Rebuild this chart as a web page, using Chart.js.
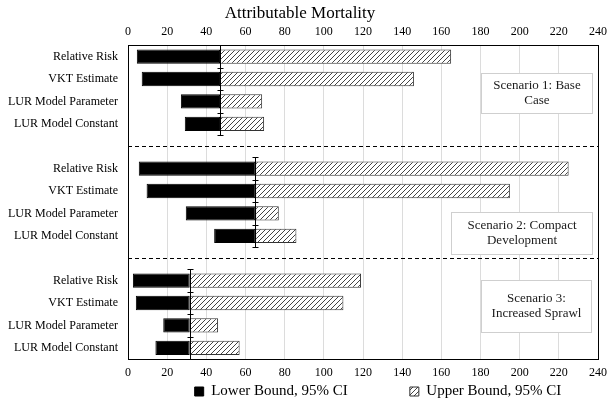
<!DOCTYPE html>
<html>
<head>
<meta charset="utf-8">
<script src="https://cdn.jsdelivr.net/npm/chart.js@4.4.1/dist/chart.umd.min.js"></script>
<style>
  html, body { margin: 0; padding: 0; background: #fff; }
  #wrap { width: 614px; height: 405px; }
</style>
</head>
<body>
<div id="wrap"><canvas id="c" width="614" height="405"></canvas></div>
<script>
// ---- data ----
const categories = [
  'Relative Risk', 'VKT Estimate', 'LUR Model Parameter', 'LUR Model Constant', '',
  'Relative Risk', 'VKT Estimate', 'LUR Model Parameter', 'LUR Model Constant', '',
  'Relative Risk', 'VKT Estimate', 'LUR Model Parameter', 'LUR Model Constant'
];
const baseValues = [47, 47, 47, 47, null, 65, 65, 65, 65, null, 31.5, 31.5, 31.5, 31.5];
const lowerBounds = [4.5, 7, 27, 29, null, 5.5, 9.5, 29.5, 44, null, 2.5, 4, 18, 14];
const upperBounds = [165, 146, 68.5, 69.5, null, 225, 195, 77, 86, null, 119, 110, 46, 57];
const scenarioLabels = [
  ['Scenario 1: Base', 'Case'],
  ['Scenario 2: Compact', 'Development'],
  ['Scenario 3:', 'Increased Sprawl']
];
const xTicks = [0, 20, 40, 60, 80, 100, 120, 140, 160, 180, 200, 220, 240];
const seriesNames = ['Lower Bound, 95% CI', 'Upper Bound, 95% CI'];
const axisTitle = 'Attributable Mortality';

// groups derived from the category list (rows between separators)
const groups = [];
(function () {
  let start = 0;
  for (let i = 0; i <= categories.length; i++) {
    if (i === categories.length || categories[i] === '') {
      groups.push({ first: start, last: i - 1, base: baseValues[start] });
      start = i + 1;
    }
  }
})();
const separators = categories.map((c, i) => c === '' ? i : -1).filter(i => i >= 0);

// ---- styling helpers ----
const SERIF = "'Liberation Serif', 'Times New Roman', serif";
function hatchPattern() {
  const s = 5;
  const c = document.createElement('canvas');
  c.width = s; c.height = s;
  const g = c.getContext('2d');
  g.fillStyle = '#ffffff';
  g.fillRect(0, 0, s, s);
  g.strokeStyle = '#444';
  g.lineWidth = 1;
  g.beginPath();
  g.moveTo(0, s); g.lineTo(s, 0);
  g.moveTo(-1, 1); g.lineTo(1, -1);
  g.moveTo(s - 1, s + 1); g.lineTo(s + 1, s - 1);
  g.stroke();
  return g.createPattern(c, 'repeat');
}
const hatch = hatchPattern();

const lowerData = lowerBounds.map((v, i) => v === null ? null : [v, baseValues[i]]);
const upperData = upperBounds.map((v, i) => v === null ? null : [baseValues[i], v]);

// boxes for scenario annotations (x in data units, y in category units)
const boxSpecs = [
  { x0: 180, x1: 237, y0: 0.71, y1: 2.54 },
  { x0: 165, x1: 237, y0: 6.92, y1: 8.80 },
  { x0: 180, x1: 236.5, y0: 9.97, y1: 12.29 }
];

const LEGEND_PAD = 62;
const overlayPlugin = {
  id: 'overlay',
  afterInit(chart) {
    const lg = chart.legend;
    if (lg && !lg._patched) {
      const orig = lg.fit;
      lg.fit = function () { orig.call(this); this.height = 20; };
      lg._patched = true;
    }
  },
  afterLayout(chart) {
    const lg = chart.legend;
    if (lg) {
      const dx = 78;
      lg.left += dx; lg.right += dx;
      lg.top -= (LEGEND_PAD - 1);
    }
  },
  afterDatasetsDraw(chart) {
    const ctx = chart.ctx;
    const xs = chart.scales.x, ys = chart.scales.y;
    const a = chart.chartArea;
    ctx.save();
    // separators
    ctx.strokeStyle = '#000';
    ctx.lineWidth = 1;
    ctx.setLineDash([4, 3]);
    separators.forEach(i => {
      const y = Math.round(ys.getPixelForValue(i)) + 0.5;
      ctx.beginPath(); ctx.moveTo(a.left, y); ctx.lineTo(a.right, y); ctx.stroke();
    });
    ctx.setLineDash([]);
    // error-bar-like base markers
    groups.forEach(g => {
      const x = Math.round(xs.getPixelForValue(g.base)) + 0.5;
      const top = ys.getPixelForValue(g.first - 0.5);
      const bot = ys.getPixelForValue(g.last + 0.5);
      ctx.beginPath(); ctx.moveTo(x, top); ctx.lineTo(x, bot); ctx.stroke();
      for (let k = g.first; k <= g.last + 1; k++) {
        const y = Math.round(ys.getPixelForValue(k - 0.5)) + 0.5;
        ctx.beginPath(); ctx.moveTo(x - 3, y); ctx.lineTo(x + 3, y); ctx.stroke();
      }
    });
    // scenario boxes
    boxSpecs.forEach((b, i) => {
      const x0 = Math.round(xs.getPixelForValue(b.x0)) + 0.5;
      const x1 = Math.round(xs.getPixelForValue(b.x1)) + 0.5;
      const y0 = Math.round(ys.getPixelForValue(b.y0)) + 0.5;
      const y1 = Math.round(ys.getPixelForValue(b.y1)) + 0.5;
      ctx.fillStyle = '#fff';
      ctx.fillRect(x0, y0, x1 - x0, y1 - y0);
      ctx.strokeStyle = '#cfcfcf';
      ctx.strokeRect(x0, y0, x1 - x0, y1 - y0);
      ctx.fillStyle = '#1a1a1a';
      ctx.font = '13px ' + SERIF;
      ctx.textAlign = 'center';
      ctx.textBaseline = 'middle';
      const lines = scenarioLabels[i];
      const cx = (x0 + x1) / 2, cy = (y0 + y1) / 2, lh = 15;
      lines.forEach((t, j) => {
        ctx.fillText(t, cx, cy + (j - (lines.length - 1) / 2) * lh);
      });
    });
    // plot frame
    ctx.strokeStyle = '#000';
    ctx.lineWidth = 1;
    ctx.strokeRect(Math.round(a.left) + 0.5, Math.round(a.top) + 0.5,
      Math.round(a.right - a.left), Math.round(a.bottom - a.top));
    ctx.restore();
  }
};

const tickFont = { family: SERIF, size: 12 };

new Chart(document.getElementById('c'), {
  type: 'bar',
  data: {
    labels: categories,
    datasets: [
      {
        label: seriesNames[0],
        data: lowerData,
        backgroundColor: '#000',
        borderColor: '#000',
        borderWidth: 1,
        borderSkipped: false,
        grouped: false,
        categoryPercentage: 1,
        barPercentage: 0.64
      },
      {
        label: seriesNames[1],
        data: upperData,
        backgroundColor: hatch,
        borderColor: '#333',
        borderWidth: 1,
        borderSkipped: false,
        grouped: false,
        categoryPercentage: 1,
        barPercentage: 0.64
      }
    ]
  },
  options: {
    indexAxis: 'y',
    responsive: false,
    animation: false,
    devicePixelRatio: 1,
    layout: { padding: { left: 0, right: 14, top: 0, bottom: 2 } },
    plugins: {
      title: {
        display: true,
        text: axisTitle,
        color: '#000',
        font: { family: SERIF, size: 17, weight: 'normal', lineHeight: 1.2 },
        padding: { top: 3, bottom: 0 }
      },
      legend: {
        display: true,
        position: 'bottom',
        labels: {
          color: '#000',
          font: { family: SERIF, size: 15 },
          boxWidth: 9,
          boxHeight: 9,
          padding: LEGEND_PAD
        }
      },
      tooltip: { enabled: false }
    },
    scales: {
      y: {
        type: 'category',
        position: 'left',
        offset: true,
        grid: { display: false, drawTicks: false },
        border: { display: false },
        ticks: { color: '#000', font: tickFont, padding: 10, autoSkip: false },
        afterFit(s) { s.width = 128; }
      },
      x: {
        type: 'linear',
        position: 'bottom',
        min: 0, max: 240,
        afterBuildTicks(s) { s.ticks = xTicks.map(v => ({ value: v })); },
        grid: { color: '#dcdcdc', drawTicks: false },
        border: { display: false },
        ticks: { color: '#000', font: tickFont, padding: 7 },
        afterFit(s) { s.height = 24; }
      },
      x2: {
        type: 'linear',
        position: 'top',
        min: 0, max: 240,
        afterBuildTicks(s) { s.ticks = xTicks.map(v => ({ value: v })); },
        grid: { display: false, drawTicks: false },
        border: { display: false },
        ticks: { color: '#000', font: tickFont, padding: 6 },
        afterFit(s) { s.height = 22; }
      }
    }
  },
  plugins: [overlayPlugin]
});
</script>
</body>
</html>
